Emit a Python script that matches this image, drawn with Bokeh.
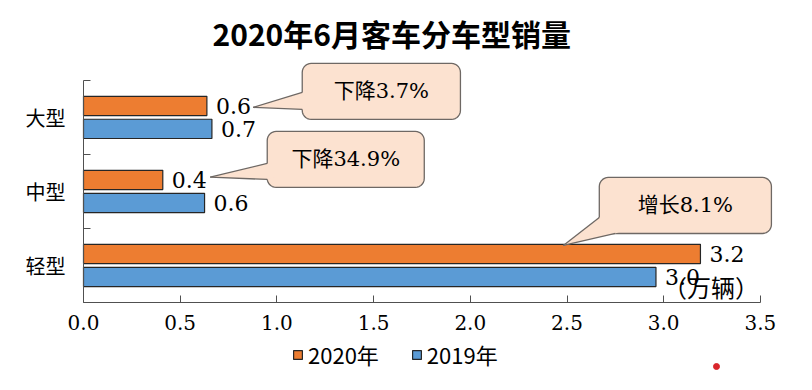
from bokeh.plotting import figure
from bokeh.models import (Range1d, FixedTicker, PrintfTickFormatter, Legend,
                          LegendItem, ColumnDataSource)
from bokeh.core.properties import value
from bokeh.embed import file_html
from bokeh.resources import INLINE
import numpy as np

# ---------------- data ----------------
title_text = "2020年6月客车分车型销量"
categories = ["轻型", "中型", "大型"]          # bottom -> top
sales_2020 = [3.19, 0.41, 0.638]              # 万辆
sales_2019 = [2.96, 0.626, 0.664]             # 万辆
series_names = ["2020年", "2019年"]
x_ticks = [0.0, 0.5, 1.0, 1.5, 2.0, 2.5, 3.0, 3.5]
callout_texts = ["增长8.1%", "下降34.9%", "下降3.7%"]
unit_label = "（万辆）"

# ---------------- layout / style ----------------
ORANGE = "#ED7D31"
BLUE = "#5B9BD5"
BAR_LINE = "#262626"
AXIS = "#505050"
BOX_FILL = "#FCE2D0"
BOX_LINE = "#6E6864"
CJK = "Noto Sans CJK SC"
NUM = "DejaVu Serif"
MIX = "DejaVu Serif, Noto Sans CJK SC"
W, H = 796, 374
PX_X = 193.4   # px per x unit
PX_Y = 74.0    # px per y unit
X0_PX = 83     # x = 0 position in px
TOP = 54       # frame top in px

pos = [i + 0.5 for i in range(len(categories))]
y20 = [p_ + 0.155 for p_ in pos]
y19 = [p_ - 0.155 for p_ in pos]

src = ColumnDataSource(dict(
    y20=y20, y19=y19, v20=sales_2020, v19=sales_2019,
    l20=[f"{v:.1f}" for v in sales_2020],
    l19=[f"{v:.1f}" for v in sales_2019],
))

p = figure(width=W, height=H, output_backend="svg", toolbar_location=None,
           x_range=Range1d(-X0_PX / PX_X, (W - X0_PX) / PX_X),
           y_range=Range1d(-0.973, 3.35),
           min_border_left=0, min_border_right=0,
           min_border_top=TOP, min_border_bottom=0,
           title=title_text)
p.outline_line_color = None
p.xgrid.visible = False
p.ygrid.visible = False
p.background_fill_color = "white"
p.border_fill_color = "white"

p.title.align = "left"
p.title.offset = 212
p.title.standoff = 0
p.title.text_font = CJK
p.title.text_font_size = "30px"
p.title.text_font_style = "bold"
p.title.text_color = "black"

# bars
r20 = p.hbar(y="y20", right="v20", left=0, height=0.26, source=src,
             fill_color=ORANGE, line_color=BAR_LINE, line_width=1.2)
r19 = p.hbar(y="y19", right="v19", left=0, height=0.26, source=src,
             fill_color=BLUE, line_color=BAR_LINE, line_width=1.2)

# value labels
p.text(x="v20", y="y20", text="l20", source=src, x_offset=9,
       text_baseline="middle", text_font=value(NUM),
       text_font_size="22px", text_color="black")
p.text(x="v19", y="y19", text="l19", source=src, x_offset=9,
       text_baseline="middle", text_font=value(NUM),
       text_font_size="22px", text_color="black")

# unit label
p.text(x=[3.245], y=[0.216], text=[unit_label], text_align="center",
       text_baseline="middle", text_font=value(CJK), text_font_size="24px",
       text_color="black")

# ---------------- callouts ----------------
# per category (bottom -> top): box (left, right, bottom, top), tip, base points A, B
boxes = [(2.667, 3.557, 0.932, 1.689), (0.950, 1.762, 1.554, 2.311), (1.131, 1.949, 2.473, 3.230)]
tips = [(2.481, 0.770), (0.655, 1.693), (0.877, 2.635)]
base_a = [(2.667, 1.149), (0.950, 1.878), (1.131, 2.838)]
base_b = [(2.750, 0.932), (0.950, 1.662), (1.131, 2.608)]


def rounded_rect(l, r, b, t, rad_px=9, n=8):
    rx, ry = rad_px / PX_X, rad_px / PX_Y
    xs, ys = [], []
    corners = [(r - rx, t - ry, 0), (l + rx, t - ry, 90), (l + rx, b + ry, 180), (r - rx, b + ry, 270)]
    for cx, cy, a0 in corners:
        for a in np.linspace(np.radians(a0), np.radians(a0 + 90), n):
            xs.append(cx + rx * np.cos(a))
            ys.append(cy + ry * np.sin(a))
    return xs, ys


box_xs, box_ys, wedge_xs, wedge_ys, line_xs, line_ys = [], [], [], [], [], []
for (l, r, b, t), (tx, ty), (ax, ay), (bx, by) in zip(boxes, tips, base_a, base_b):
    xs, ys = rounded_rect(l, r, b, t)
    box_xs.append(xs)
    box_ys.append(ys)
    cx, cy = (l + r) / 2, (b + t) / 2
    k = 0.12
    a2 = (ax + k * (cx - ax), ay + k * (cy - ay))
    b2 = (bx + k * (cx - bx), by + k * (cy - by))
    wedge_xs.append([tx, ax, a2[0], b2[0], bx])
    wedge_ys.append([ty, ay, a2[1], b2[1], by])
    line_xs += [[tx, ax], [tx, bx]]
    line_ys += [[ty, ay], [ty, by]]

p.patches(box_xs, box_ys, fill_color=BOX_FILL, line_color=BOX_LINE, line_width=1.3)
p.patches(wedge_xs, wedge_ys, fill_color=BOX_FILL, line_color=None)
p.multi_line(line_xs, line_ys, line_color=BOX_LINE, line_width=1.3)

p.text(x=[(b[0] + b[1]) / 2 for b in boxes], y=[(b[2] + b[3]) / 2 for b in boxes],
       text=callout_texts, text_align="center", text_baseline="middle",
       text_font=value(MIX), text_font_size="21px", text_color="black")

# small red dot seen in the source image
p.scatter(x=[3.273], y=[-0.865], size=6, color="#D9262B")

# ---------------- axes ----------------
xa = p.xaxis[0]
xa.fixed_location = 0
xa.ticker = FixedTicker(ticks=x_ticks)
xa.formatter = PrintfTickFormatter(format="%.1f")
xa.bounds = (0, 3.5)
xa.axis_line_color = AXIS
xa.major_tick_line_color = AXIS
xa.major_tick_in = 7
xa.major_tick_out = 0
xa.minor_tick_line_color = None
xa.major_label_standoff = 13
xa.major_label_text_font = NUM
xa.major_label_text_font_size = "20px"
xa.major_label_text_color = "black"

ya = p.yaxis[0]
ya.fixed_location = 0
ya.ticker = FixedTicker(ticks=pos, minor_ticks=[0, 1, 2, 3])
ya.major_label_overrides = {pv: c for pv, c in zip(pos, categories)}
ya.bounds = (0, 3)
ya.axis_line_color = AXIS
ya.major_tick_line_color = None
ya.major_tick_in = 0
ya.major_tick_out = 0
ya.minor_tick_line_color = AXIS
ya.minor_tick_in = 7
ya.minor_tick_out = 0
ya.major_label_standoff = 18
ya.major_label_text_font = CJK
ya.major_label_text_font_size = "20px"
ya.major_label_text_color = "black"

# ---------------- legend ----------------
legend = Legend(items=[LegendItem(label=series_names[0], renderers=[r20]),
                       LegendItem(label=series_names[1], renderers=[r19])],
                orientation="horizontal", location=(X0_PX + 209, 4),
                border_line_color=None, background_fill_alpha=0,
                padding=4, margin=0, spacing=32,
                glyph_width=11, glyph_height=11, label_standoff=5,
                label_text_font=CJK, label_text_font_size="22px",
                label_text_color="black")
p.add_layout(legend, "center")

open("out.html", "w").write(file_html(p, INLINE))
